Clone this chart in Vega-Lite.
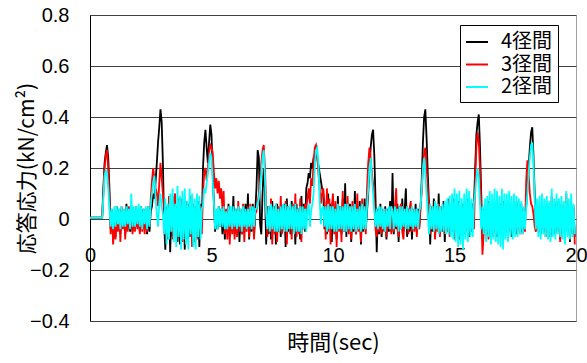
{
"$schema": "https://vega.github.io/schema/vega-lite/v6.json",
"width": 486, "height": 306,
"autosize": "none",
"padding": {"left": 90, "top": 15, "right": 11, "bottom": 42},
"background": "white",
"config": {"view": {"stroke": "#a0a0a0", "strokeWidth": 1}, "font": "Liberation Sans"},
"data": {"values": [
{"t":0,"a":0.005,"b":0.005,"c":0.005},
{"t":0.5,"a":0.005,"b":0.005,"c":0.005},
{"t":0.55,"a":0.12,"b":0.10,"c":0.08},
{"t":0.6,"a":0.22,"b":0.20,"c":0.17},
{"t":0.65,"a":0.26,"b":0.25,"c":0.19},
{"t":0.7,"a":0.29,"b":0.27,"c":0.18},
{"t":0.75,"a":0.24,"b":0.20,"c":0.12},
{"t":0.8,"a":0.12,"b":0.08,"c":0.04},
{"t":0.85,"a":-0.04,"b":-0.06,"c":-0.03},
{"t":0.9,"a":0.03,"b":0.04,"c":0.04},
{"t":0.95,"a":-0.05,"b":-0.10,"c":-0.04},
{"t":1.0,"a":0.02,"b":-0.02,"c":0.05},
{"t":1.05,"a":-0.07,"b":-0.08,"c":-0.03},
{"t":1.1,"a":0.05,"b":0.02,"c":0.05},
{"t":1.15,"a":-0.04,"b":-0.05,"c":-0.02},
{"t":1.2,"a":0.03,"b":0.04,"c":0.04},
{"t":1.25,"a":-0.06,"b":-0.09,"c":-0.04},
{"t":1.3,"a":0.04,"b":0.05,"c":0.05},
{"t":1.35,"a":-0.03,"b":-0.04,"c":-0.03},
{"t":1.4,"a":0.02,"b":0.03,"c":0.04},
{"t":1.45,"a":-0.06,"b":-0.08,"c":-0.03},
{"t":1.5,"a":0.06,"b":0.03,"c":0.05},
{"t":1.55,"a":-0.04,"b":-0.05,"c":-0.02},
{"t":1.6,"a":0.03,"b":0.05,"c":0.04},
{"t":1.65,"a":-0.05,"b":-0.03,"c":-0.04},
{"t":1.7,"a":0.03,"b":0.04,"c":0.10},
{"t":1.75,"a":-0.05,"b":-0.06,"c":-0.03},
{"t":1.8,"a":0.02,"b":0.03,"c":0.05},
{"t":1.85,"a":-0.04,"b":-0.05,"c":-0.03},
{"t":1.9,"a":0.04,"b":0.05,"c":0.05},
{"t":1.95,"a":-0.03,"b":-0.04,"c":-0.02},
{"t":2.0,"a":0.02,"b":0.03,"c":0.06},
{"t":2.05,"a":-0.05,"b":-0.06,"c":-0.03},
{"t":2.1,"a":0.05,"b":0.03,"c":0.05},
{"t":2.15,"a":-0.03,"b":-0.05,"c":-0.04},
{"t":2.2,"a":0.04,"b":0.02,"c":0.04},
{"t":2.25,"a":-0.04,"b":-0.06,"c":-0.02},
{"t":2.3,"a":0.04,"b":0.04,"c":0.05},
{"t":2.35,"a":-0.06,"b":-0.05,"c":-0.04},
{"t":2.4,"a":0.03,"b":0.05,"c":0.05},
{"t":2.45,"a":-0.05,"b":-0.02,"c":-0.03},
{"t":2.5,"a":0.03,"b":0.08,"c":0.06},
{"t":2.55,"a":0.05,"b":0.15,"c":0.10},
{"t":2.6,"a":0.10,"b":0.20,"c":0.14},
{"t":2.65,"a":0.08,"b":0.16,"c":0.17},
{"t":2.7,"a":0.15,"b":0.12,"c":0.08},
{"t":2.75,"a":0.22,"b":0.10,"c":0.02},
{"t":2.8,"a":0.30,"b":0.05,"c":-0.03},
{"t":2.85,"a":0.36,"b":0.14,"c":0.06},
{"t":2.9,"a":0.43,"b":0.22,"c":0.10},
{"t":2.95,"a":0.38,"b":0.16,"c":0.05},
{"t":3.0,"a":0.22,"b":0.10,"c":0.02},
{"t":3.05,"a":-0.02,"b":0.04,"c":-0.06},
{"t":3.1,"a":-0.12,"b":-0.06,"c":0.08},
{"t":3.15,"a":0.04,"b":0.05,"c":-0.10},
{"t":3.2,"a":-0.06,"b":-0.08,"c":0.06},
{"t":3.25,"a":0.06,"b":0.09,"c":-0.08},
{"t":3.3,"a":-0.13,"b":-0.05,"c":0.10},
{"t":3.35,"a":0.03,"b":0.06,"c":-0.05},
{"t":3.4,"a":-0.07,"b":-0.08,"c":0.12},
{"t":3.45,"a":0.07,"b":0.08,"c":-0.09},
{"t":3.5,"a":-0.06,"b":0.10,"c":0.06},
{"t":3.55,"a":0.05,"b":-0.04,"c":-0.11},
{"t":3.6,"a":-0.09,"b":-0.07,"c":0.13},
{"t":3.65,"a":0.08,"b":0.06,"c":-0.07},
{"t":3.7,"a":-0.10,"b":-0.05,"c":0.09},
{"t":3.75,"a":0.04,"b":0.08,"c":-0.12},
{"t":3.8,"a":-0.08,"b":-0.09,"c":0.11},
{"t":3.85,"a":0.05,"b":0.04,"c":-0.08},
{"t":3.9,"a":-0.12,"b":-0.06,"c":0.12},
{"t":3.95,"a":0.06,"b":0.07,"c":-0.10},
{"t":4.0,"a":-0.05,"b":-0.08,"c":0.07},
{"t":4.05,"a":0.06,"b":0.05,"c":-0.12},
{"t":4.1,"a":-0.07,"b":-0.04,"c":0.12},
{"t":4.15,"a":0.07,"b":0.09,"c":-0.06},
{"t":4.2,"a":-0.04,"b":-0.11,"c":0.10},
{"t":4.25,"a":0.05,"b":0.06,"c":-0.11},
{"t":4.3,"a":-0.09,"b":-0.05,"c":0.08},
{"t":4.35,"a":0.03,"b":0.05,"c":-0.12},
{"t":4.4,"a":-0.06,"b":-0.08,"c":0.10},
{"t":4.45,"a":0.05,"b":0.07,"c":-0.07},
{"t":4.5,"a":-0.11,"b":-0.04,"c":0.09},
{"t":4.55,"a":0.06,"b":0.05,"c":-0.08},
{"t":4.6,"a":-0.03,"b":-0.06,"c":0.04},
{"t":4.65,"a":0.20,"b":0.10,"c":0.05},
{"t":4.7,"a":0.30,"b":0.18,"c":0.12},
{"t":4.75,"a":0.35,"b":0.20,"c":0.10},
{"t":4.8,"a":0.28,"b":0.15,"c":0.14},
{"t":4.85,"a":0.22,"b":0.20,"c":0.18},
{"t":4.9,"a":0.30,"b":0.26,"c":0.22},
{"t":4.95,"a":0.37,"b":0.29,"c":0.26},
{"t":5.0,"a":0.33,"b":0.28,"c":0.24},
{"t":5.05,"a":0.18,"b":0.26,"c":0.15},
{"t":5.1,"a":0.06,"b":0.18,"c":0.06},
{"t":5.15,"a":-0.05,"b":0.12,"c":-0.04},
{"t":5.2,"a":0.03,"b":0.16,"c":0.04},
{"t":5.25,"a":-0.04,"b":0.10,"c":-0.04},
{"t":5.3,"a":0.05,"b":0.15,"c":0.05},
{"t":5.35,"a":-0.03,"b":0.08,"c":-0.03},
{"t":5.4,"a":0.04,"b":0.12,"c":0.04},
{"t":5.45,"a":-0.06,"b":0.04,"c":-0.03},
{"t":5.5,"a":0.04,"b":0.11,"c":0.05},
{"t":5.55,"a":-0.08,"b":-0.06,"c":-0.04},
{"t":5.6,"a":0.03,"b":0.04,"c":0.03},
{"t":5.65,"a":-0.05,"b":-0.08,"c":-0.04},
{"t":5.7,"a":0.06,"b":0.05,"c":0.05},
{"t":5.75,"a":-0.07,"b":-0.10,"c":-0.03},
{"t":5.8,"a":0.02,"b":0.04,"c":0.05},
{"t":5.85,"a":-0.04,"b":-0.06,"c":-0.04},
{"t":5.9,"a":0.09,"b":0.04,"c":0.05},
{"t":5.95,"a":-0.06,"b":-0.08,"c":-0.03},
{"t":6.0,"a":0.04,"b":0.03,"c":0.04},
{"t":6.05,"a":-0.05,"b":-0.07,"c":-0.04},
{"t":6.1,"a":0.05,"b":0.07,"c":0.05},
{"t":6.15,"a":-0.09,"b":-0.05,"c":-0.03},
{"t":6.2,"a":0.03,"b":0.04,"c":0.04},
{"t":6.25,"a":-0.06,"b":-0.06,"c":-0.05},
{"t":6.3,"a":0.04,"b":0.06,"c":0.05},
{"t":6.35,"a":-0.05,"b":-0.09,"c":-0.03},
{"t":6.4,"a":0.06,"b":0.03,"c":0.04},
{"t":6.45,"a":-0.04,"b":-0.05,"c":-0.04},
{"t":6.5,"a":0.10,"b":0.05,"c":0.04},
{"t":6.55,"a":-0.08,"b":-0.07,"c":-0.03},
{"t":6.6,"a":0.04,"b":0.06,"c":0.05},
{"t":6.65,"a":-0.05,"b":-0.04,"c":-0.04},
{"t":6.7,"a":0.06,"b":0.04,"c":0.05},
{"t":6.75,"a":-0.06,"b":-0.08,"c":-0.03},
{"t":6.8,"a":0.03,"b":0.02,"c":0.04},
{"t":6.85,"a":0.12,"b":0.03,"c":0.04},
{"t":6.9,"a":0.27,"b":0.06,"c":0.06},
{"t":6.95,"a":0.24,"b":0.10,"c":0.08},
{"t":7.0,"a":-0.02,"b":0.15,"c":0.12},
{"t":7.05,"a":-0.06,"b":0.22,"c":0.18},
{"t":7.1,"a":0.10,"b":0.27,"c":0.24},
{"t":7.15,"a":0.20,"b":0.29,"c":0.27},
{"t":7.2,"a":0.12,"b":0.20,"c":0.16},
{"t":7.25,"a":-0.10,"b":0.05,"c":0.02},
{"t":7.3,"a":0.05,"b":-0.07,"c":-0.04},
{"t":7.35,"a":-0.06,"b":0.05,"c":0.05},
{"t":7.4,"a":0.04,"b":-0.05,"c":-0.05},
{"t":7.45,"a":-0.08,"b":0.08,"c":0.06},
{"t":7.5,"a":0.07,"b":-0.10,"c":-0.04},
{"t":7.55,"a":-0.04,"b":0.04,"c":0.05},
{"t":7.6,"a":0.05,"b":-0.06,"c":-0.05},
{"t":7.65,"a":-0.10,"b":0.06,"c":0.06},
{"t":7.7,"a":0.06,"b":-0.09,"c":-0.05},
{"t":7.75,"a":-0.05,"b":0.05,"c":0.04},
{"t":7.8,"a":0.03,"b":-0.04,"c":-0.05},
{"t":7.85,"a":-0.07,"b":0.09,"c":0.05},
{"t":7.9,"a":0.05,"b":-0.06,"c":-0.04},
{"t":7.95,"a":-0.04,"b":0.04,"c":0.06},
{"t":8.0,"a":0.06,"b":-0.05,"c":-0.05},
{"t":8.05,"a":-0.11,"b":0.07,"c":0.06},
{"t":8.1,"a":0.08,"b":-0.10,"c":-0.05},
{"t":8.15,"a":-0.05,"b":0.05,"c":0.05},
{"t":8.2,"a":0.04,"b":-0.04,"c":-0.04},
{"t":8.25,"a":-0.06,"b":0.05,"c":0.06},
{"t":8.3,"a":0.07,"b":-0.08,"c":-0.04},
{"t":8.35,"a":-0.04,"b":0.06,"c":0.05},
{"t":8.4,"a":0.05,"b":-0.05,"c":-0.06},
{"t":8.45,"a":-0.10,"b":0.10,"c":0.06},
{"t":8.5,"a":0.06,"b":-0.07,"c":-0.05},
{"t":8.55,"a":-0.05,"b":0.04,"c":0.04},
{"t":8.6,"a":0.04,"b":-0.06,"c":-0.05},
{"t":8.65,"a":-0.08,"b":0.08,"c":0.05},
{"t":8.7,"a":0.09,"b":-0.09,"c":-0.06},
{"t":8.75,"a":-0.04,"b":0.05,"c":0.05},
{"t":8.8,"a":0.06,"b":-0.04,"c":-0.04},
{"t":8.85,"a":-0.05,"b":0.06,"c":0.04},
{"t":8.9,"a":0.12,"b":0.04,"c":-0.05},
{"t":8.95,"a":0.14,"b":0.08,"c":0.04},
{"t":9.0,"a":0.18,"b":0.12,"c":0.06},
{"t":9.05,"a":0.16,"b":0.06,"c":-0.03},
{"t":9.1,"a":0.22,"b":0.16,"c":0.03},
{"t":9.15,"a":0.20,"b":0.13,"c":0.06},
{"t":9.2,"a":0.24,"b":0.22,"c":0.10},
{"t":9.25,"a":0.25,"b":0.28,"c":0.20},
{"t":9.3,"a":0.26,"b":0.29,"c":0.27},
{"t":9.35,"a":0.24,"b":0.25,"c":0.28},
{"t":9.4,"a":0.21,"b":0.18,"c":0.22},
{"t":9.45,"a":0.18,"b":0.12,"c":0.08},
{"t":9.5,"a":0.15,"b":0.06,"c":-0.02},
{"t":9.55,"a":0.12,"b":0.10,"c":0.04},
{"t":9.6,"a":0.10,"b":0.12,"c":0.05},
{"t":9.65,"a":-0.04,"b":0.06,"c":-0.03},
{"t":9.7,"a":0.05,"b":-0.08,"c":0.05},
{"t":9.75,"a":-0.06,"b":0.12,"c":-0.05},
{"t":9.8,"a":0.10,"b":-0.05,"c":0.06},
{"t":9.85,"a":-0.04,"b":0.08,"c":-0.04},
{"t":9.9,"a":0.06,"b":-0.10,"c":0.05},
{"t":9.95,"a":-0.09,"b":0.05,"c":-0.04},
{"t":10.0,"a":0.07,"b":0.10,"c":0.05},
{"t":10.05,"a":-0.05,"b":-0.06,"c":-0.05},
{"t":10.1,"a":0.04,"b":0.07,"c":0.04},
{"t":10.15,"a":-0.08,"b":-0.11,"c":-0.05},
{"t":10.2,"a":0.09,"b":0.06,"c":0.06},
{"t":10.25,"a":-0.04,"b":-0.05,"c":-0.04},
{"t":10.3,"a":0.05,"b":0.04,"c":0.05},
{"t":10.35,"a":-0.06,"b":-0.09,"c":-0.04},
{"t":10.4,"a":0.08,"b":0.11,"c":0.05},
{"t":10.45,"a":-0.05,"b":-0.04,"c":-0.05},
{"t":10.5,"a":0.14,"b":0.05,"c":0.06},
{"t":10.55,"a":-0.07,"b":-0.05,"c":-0.05},
{"t":10.6,"a":0.05,"b":0.09,"c":0.06},
{"t":10.65,"a":-0.04,"b":-0.06,"c":-0.04},
{"t":10.7,"a":0.06,"b":0.04,"c":0.05},
{"t":10.75,"a":-0.09,"b":-0.08,"c":-0.05},
{"t":10.8,"a":0.04,"b":0.07,"c":0.05},
{"t":10.85,"a":-0.05,"b":-0.04,"c":-0.04},
{"t":10.9,"a":0.11,"b":0.05,"c":0.06},
{"t":10.95,"a":-0.06,"b":-0.06,"c":-0.05},
{"t":11.0,"a":0.05,"b":0.10,"c":0.04},
{"t":11.05,"a":-0.04,"b":-0.05,"c":-0.04},
{"t":11.1,"a":0.07,"b":0.04,"c":0.05},
{"t":11.15,"a":-0.10,"b":-0.09,"c":-0.05},
{"t":11.2,"a":0.05,"b":0.08,"c":0.06},
{"t":11.25,"a":-0.05,"b":-0.04,"c":-0.04},
{"t":11.3,"a":0.08,"b":0.05,"c":0.05},
{"t":11.35,"a":-0.04,"b":-0.06,"c":-0.04},
{"t":11.4,"a":0.03,"b":0.12,"c":0.05},
{"t":11.45,"a":0.10,"b":0.22,"c":0.12},
{"t":11.5,"a":0.20,"b":0.28,"c":0.20},
{"t":11.55,"a":0.28,"b":0.24,"c":0.24},
{"t":11.6,"a":0.33,"b":0.18,"c":0.16},
{"t":11.65,"a":0.35,"b":0.14,"c":0.10},
{"t":11.7,"a":0.25,"b":0.08,"c":0.03},
{"t":11.75,"a":0.08,"b":-0.04,"c":-0.03},
{"t":11.8,"a":-0.13,"b":-0.07,"c":0.04},
{"t":11.85,"a":0.04,"b":0.03,"c":-0.04},
{"t":11.9,"a":-0.06,"b":-0.05,"c":0.05},
{"t":11.95,"a":0.06,"b":0.05,"c":-0.03},
{"t":12.0,"a":-0.07,"b":-0.06,"c":0.05},
{"t":12.05,"a":0.03,"b":0.04,"c":-0.04},
{"t":12.1,"a":-0.04,"b":-0.05,"c":0.04},
{"t":12.15,"a":0.05,"b":0.04,"c":-0.05},
{"t":12.2,"a":-0.08,"b":-0.07,"c":0.04},
{"t":12.25,"a":0.04,"b":0.03,"c":-0.03},
{"t":12.3,"a":-0.05,"b":-0.04,"c":0.05},
{"t":12.35,"a":0.07,"b":0.05,"c":-0.04},
{"t":12.4,"a":-0.05,"b":-0.06,"c":0.05},
{"t":12.45,"a":0.18,"b":0.04,"c":0.03},
{"t":12.5,"a":-0.06,"b":-0.05,"c":-0.04},
{"t":12.55,"a":0.04,"b":0.05,"c":0.05},
{"t":12.6,"a":-0.04,"b":0.12,"c":-0.03},
{"t":12.65,"a":0.06,"b":-0.04,"c":0.04},
{"t":12.7,"a":-0.09,"b":-0.07,"c":-0.05},
{"t":12.75,"a":0.05,"b":0.04,"c":0.05},
{"t":12.8,"a":-0.04,"b":0.06,"c":-0.04},
{"t":12.85,"a":0.08,"b":-0.05,"c":0.05},
{"t":12.9,"a":-0.05,"b":-0.08,"c":-0.03},
{"t":12.95,"a":0.04,"b":0.04,"c":0.04},
{"t":13.0,"a":0.12,"b":-0.03,"c":-0.04},
{"t":13.05,"a":-0.07,"b":0.05,"c":0.05},
{"t":13.1,"a":0.04,"b":-0.06,"c":-0.04},
{"t":13.15,"a":-0.05,"b":0.04,"c":0.04},
{"t":13.2,"a":0.05,"b":0.07,"c":-0.03},
{"t":13.25,"a":-0.08,"b":-0.05,"c":0.05},
{"t":13.3,"a":0.03,"b":0.04,"c":-0.04},
{"t":13.35,"a":-0.04,"b":-0.05,"c":0.04},
{"t":13.4,"a":0.06,"b":0.04,"c":-0.03},
{"t":13.45,"a":-0.05,"b":-0.07,"c":0.04},
{"t":13.5,"a":0.04,"b":0.03,"c":-0.04},
{"t":13.55,"a":-0.03,"b":-0.04,"c":0.03},
{"t":13.6,"a":0.04,"b":0.05,"c":0.05},
{"t":13.65,"a":0.15,"b":0.10,"c":0.12},
{"t":13.7,"a":0.30,"b":0.20,"c":0.20},
{"t":13.75,"a":0.40,"b":0.26,"c":0.24},
{"t":13.8,"a":0.43,"b":0.28,"c":0.18},
{"t":13.85,"a":0.32,"b":0.20,"c":0.10},
{"t":13.9,"a":0.18,"b":0.12,"c":0.02},
{"t":13.95,"a":0.06,"b":0.02,"c":-0.06},
{"t":14.0,"a":-0.10,"b":-0.06,"c":0.06},
{"t":14.05,"a":0.04,"b":0.05,"c":-0.04},
{"t":14.1,"a":-0.05,"b":-0.04,"c":0.05},
{"t":14.15,"a":0.08,"b":0.05,"c":-0.05},
{"t":14.2,"a":-0.07,"b":-0.08,"c":0.07},
{"t":14.25,"a":0.05,"b":0.04,"c":-0.04},
{"t":14.3,"a":-0.04,"b":-0.05,"c":0.06},
{"t":14.35,"a":0.10,"b":0.06,"c":-0.06},
{"t":14.4,"a":-0.06,"b":-0.07,"c":0.05},
{"t":14.45,"a":0.04,"b":0.05,"c":-0.05},
{"t":14.5,"a":-0.05,"b":-0.04,"c":0.06},
{"t":14.55,"a":0.07,"b":0.05,"c":-0.05},
{"t":14.6,"a":-0.09,"b":-0.06,"c":0.07},
{"t":14.65,"a":0.04,"b":0.04,"c":-0.06},
{"t":14.7,"a":-0.05,"b":-0.05,"c":0.08},
{"t":14.75,"a":0.06,"b":0.08,"c":-0.06},
{"t":14.8,"a":-0.05,"b":-0.07,"c":0.09},
{"t":14.85,"a":0.05,"b":0.04,"c":-0.07},
{"t":14.9,"a":-0.04,"b":-0.05,"c":0.10},
{"t":14.95,"a":0.08,"b":0.05,"c":-0.08},
{"t":15.0,"a":-0.06,"b":-0.08,"c":0.12},
{"t":15.05,"a":0.05,"b":0.04,"c":-0.09},
{"t":15.1,"a":-0.04,"b":-0.05,"c":0.10},
{"t":15.15,"a":0.07,"b":0.06,"c":-0.11},
{"t":15.2,"a":-0.08,"b":-0.07,"c":0.11},
{"t":15.25,"a":0.04,"b":0.05,"c":-0.10},
{"t":15.3,"a":-0.05,"b":-0.04,"c":0.08},
{"t":15.35,"a":0.06,"b":0.05,"c":-0.12},
{"t":15.4,"a":-0.05,"b":-0.06,"c":0.10},
{"t":15.45,"a":0.05,"b":0.04,"c":-0.08},
{"t":15.5,"a":-0.04,"b":-0.05,"c":0.12},
{"t":15.55,"a":0.08,"b":0.07,"c":-0.09},
{"t":15.6,"a":-0.07,"b":-0.05,"c":0.11},
{"t":15.65,"a":0.04,"b":0.05,"c":-0.07},
{"t":15.7,"a":-0.05,"b":-0.04,"c":0.08},
{"t":15.75,"a":0.06,"b":0.06,"c":-0.07},
{"t":15.8,"a":0.05,"b":-0.04,"c":0.06},
{"t":15.85,"a":0.20,"b":0.15,"c":0.10},
{"t":15.9,"a":0.33,"b":0.28,"c":0.16},
{"t":15.95,"a":0.38,"b":0.34,"c":0.20},
{"t":16.0,"a":0.41,"b":0.30,"c":0.15},
{"t":16.05,"a":0.28,"b":0.20,"c":0.06},
{"t":16.1,"a":0.10,"b":0.05,"c":-0.04},
{"t":16.15,"a":-0.08,"b":-0.14,"c":0.05},
{"t":16.2,"a":0.04,"b":-0.06,"c":-0.06},
{"t":16.25,"a":-0.05,"b":0.04,"c":0.08},
{"t":16.3,"a":0.03,"b":-0.05,"c":-0.09},
{"t":16.35,"a":-0.06,"b":0.05,"c":0.09},
{"t":16.4,"a":0.07,"b":-0.08,"c":-0.07},
{"t":16.45,"a":-0.04,"b":0.04,"c":0.11},
{"t":16.5,"a":0.05,"b":-0.05,"c":-0.10},
{"t":16.55,"a":-0.05,"b":0.06,"c":0.10},
{"t":16.6,"a":0.06,"b":-0.07,"c":-0.08},
{"t":16.65,"a":-0.04,"b":0.05,"c":0.12},
{"t":16.7,"a":0.05,"b":-0.06,"c":-0.09},
{"t":16.75,"a":-0.07,"b":0.09,"c":0.11},
{"t":16.8,"a":0.05,"b":-0.06,"c":-0.10},
{"t":16.85,"a":-0.04,"b":0.04,"c":0.09},
{"t":16.9,"a":0.06,"b":-0.05,"c":-0.11},
{"t":16.95,"a":-0.06,"b":0.05,"c":0.12},
{"t":17.0,"a":0.07,"b":-0.07,"c":-0.12},
{"t":17.05,"a":-0.05,"b":0.04,"c":0.10},
{"t":17.1,"a":0.04,"b":-0.05,"c":-0.08},
{"t":17.15,"a":-0.05,"b":0.06,"c":0.10},
{"t":17.2,"a":0.06,"b":-0.08,"c":-0.09},
{"t":17.25,"a":-0.04,"b":0.04,"c":0.11},
{"t":17.3,"a":0.05,"b":-0.05,"c":-0.07},
{"t":17.35,"a":-0.07,"b":0.05,"c":0.09},
{"t":17.4,"a":0.05,"b":-0.06,"c":-0.08},
{"t":17.45,"a":-0.04,"b":0.04,"c":0.10},
{"t":17.5,"a":0.06,"b":-0.05,"c":-0.07},
{"t":17.55,"a":-0.06,"b":0.07,"c":0.09},
{"t":17.6,"a":0.06,"b":-0.05,"c":-0.07},
{"t":17.65,"a":-0.04,"b":0.04,"c":0.08},
{"t":17.7,"a":0.05,"b":-0.06,"c":-0.06},
{"t":17.75,"a":-0.05,"b":0.06,"c":0.07},
{"t":17.8,"a":0.04,"b":-0.06,"c":-0.06},
{"t":17.85,"a":-0.03,"b":0.04,"c":0.05},
{"t":17.9,"a":0.03,"b":-0.05,"c":-0.04},
{"t":17.95,"a":0.05,"b":0.15,"c":0.04},
{"t":18.0,"a":0.12,"b":0.23,"c":0.10},
{"t":18.05,"a":0.20,"b":0.18,"c":0.18},
{"t":18.1,"a":0.28,"b":0.10,"c":0.24},
{"t":18.15,"a":0.34,"b":0.06,"c":0.29},
{"t":18.2,"a":0.36,"b":0.05,"c":0.30},
{"t":18.25,"a":0.25,"b":0.02,"c":0.22},
{"t":18.3,"a":0.10,"b":-0.03,"c":0.08},
{"t":18.35,"a":-0.04,"b":-0.05,"c":-0.04},
{"t":18.4,"a":0.05,"b":0.06,"c":0.08},
{"t":18.45,"a":-0.04,"b":-0.05,"c":-0.07},
{"t":18.5,"a":0.04,"b":0.04,"c":0.09},
{"t":18.55,"a":-0.06,"b":-0.05,"c":-0.08},
{"t":18.6,"a":0.07,"b":0.06,"c":0.10},
{"t":18.65,"a":-0.04,"b":-0.04,"c":-0.06},
{"t":18.7,"a":0.04,"b":0.05,"c":0.08},
{"t":18.75,"a":-0.05,"b":-0.07,"c":-0.07},
{"t":18.8,"a":0.06,"b":0.05,"c":0.09},
{"t":18.85,"a":-0.04,"b":-0.05,"c":-0.08},
{"t":18.9,"a":0.05,"b":0.04,"c":0.07},
{"t":18.95,"a":-0.07,"b":-0.06,"c":-0.09},
{"t":19.0,"a":0.05,"b":0.09,"c":0.12},
{"t":19.05,"a":-0.05,"b":-0.04,"c":-0.07},
{"t":19.1,"a":0.04,"b":0.05,"c":0.08},
{"t":19.15,"a":-0.06,"b":-0.05,"c":-0.08},
{"t":19.2,"a":0.06,"b":0.07,"c":0.10},
{"t":19.25,"a":-0.04,"b":-0.05,"c":-0.06},
{"t":19.3,"a":0.03,"b":0.04,"c":0.08},
{"t":19.35,"a":-0.08,"b":-0.09,"c":-0.07},
{"t":19.4,"a":0.05,"b":0.06,"c":0.09},
{"t":19.45,"a":-0.05,"b":-0.04,"c":-0.08},
{"t":19.5,"a":0.04,"b":0.05,"c":0.07},
{"t":19.55,"a":-0.06,"b":-0.05,"c":-0.10},
{"t":19.6,"a":0.07,"b":0.10,"c":0.11},
{"t":19.65,"a":-0.04,"b":-0.05,"c":-0.07},
{"t":19.7,"a":0.05,"b":0.04,"c":0.08},
{"t":19.75,"a":-0.09,"b":-0.06,"c":-0.08},
{"t":19.8,"a":0.06,"b":0.05,"c":0.10},
{"t":19.85,"a":-0.05,"b":-0.06,"c":-0.07},
{"t":19.9,"a":0.04,"b":0.05,"c":0.06},
{"t":19.95,"a":-0.07,"b":-0.10,"c":-0.06}
]},
"transform": [{"fold": ["a","b","c"], "as": ["k","v"]}],
"mark": {"type": "line", "strokeWidth": 1.8},
"encoding": {
 "x": {"field": "t", "type": "quantitative", "scale": {"domain": [0,20], "nice": false},
  "axis": {"values": [0,5,10,15,20], "offset": -102, "domain": false, "ticks": false, "grid": false,
   "labelFont": "Liberation Sans", "labelFontSize": 20, "labelPadding": 26, "labelColor": "black", "labelFlush": false,
   "title": "時間(sec)", "titleFont": "Noto Sans CJK JP", "titleFontSize": 22, "titleFontWeight": "normal",
   "titleY": 113, "titleBaseline": "top", "titleColor": "black"}},
 "y": {"field": "v", "type": "quantitative", "scale": {"domain": [-0.4,0.8], "nice": false, "zero": false},
  "axis": {"values": [-0.4,-0.2,0,0.2,0.4,0.6,0.8],
   "labelExpr": "datum.value == 0 ? '0' : format(datum.value, '.1f')",
   "labelFont": "Liberation Sans", "labelFontSize": 20, "labelPadding": 21, "labelColor": "black", "ticks": false,
   "domainColor": "black", "gridColor": "#404040", "gridOpacity": 1,
   "title": "応答応力(kN/cm²)", "titleFont": "Noto Sans CJK JP", "titleFontSize": 21, "titleFontWeight": "normal",
   "titleX": -53, "titleY": 153, "titleAngle": -90, "titleAlign": "center", "titleBaseline": "bottom", "titleColor": "black"}},
 "color": {"field": "k", "type": "nominal",
  "scale": {"domain": ["a","b","c"], "range": ["#000000","#ff0000","#00ffff"]},
  "legend": {"orient": "none", "legendX": 370, "legendY": 10, "title": null,
   "labelExpr": "datum.label == 'a' ? '4径間' : datum.label == 'b' ? '3径間' : '2径間'",
   "symbolType": "stroke", "symbolSize": 484, "symbolStrokeWidth": 2,
   "labelFont": "Noto Sans CJK JP", "labelFontSize": 20, "labelColor": "black", "labelOffset": 12, "labelLimit": 0,
   "strokeColor": "black", "fillColor": "white", "padding": 5, "rowPadding": 0.5}}
}
}
